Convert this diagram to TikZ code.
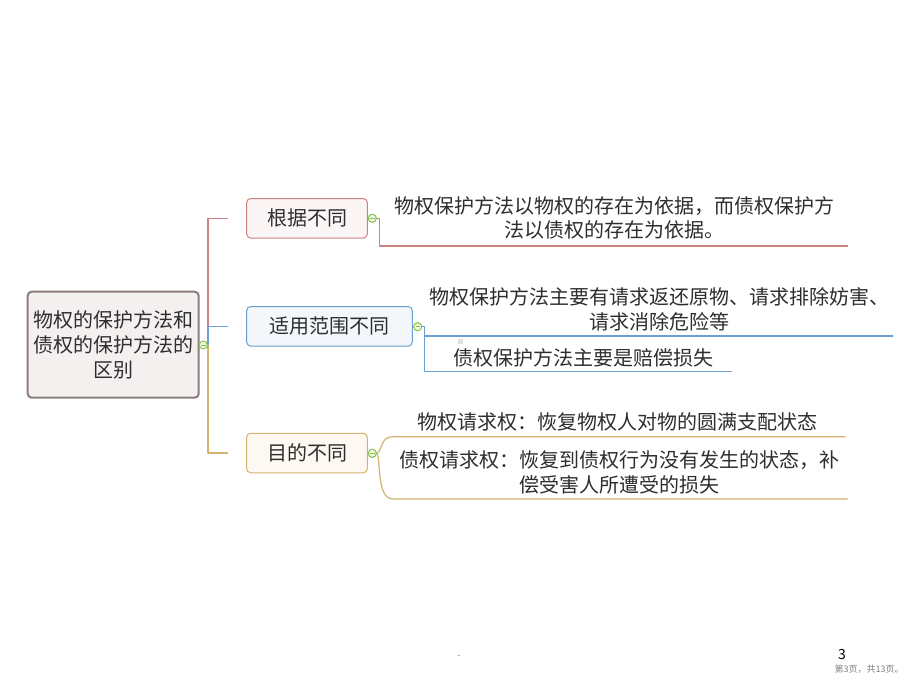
\documentclass[tikz,border=0pt]{standalone}
\usepackage{fontspec}
\setmainfont{Noto Sans CJK SC}
\usetikzlibrary{calc}
\definecolor{textc}{HTML}{2E2E2E}
\definecolor{redl}{HTML}{CD8282}
\definecolor{redf}{HTML}{FBF5F5}
\definecolor{bluel}{HTML}{6A9FCF}
\definecolor{bluef}{HTML}{F3F7FC}
\definecolor{yell}{HTML}{D2B46E}
\definecolor{yelf}{HTML}{FDF8F1}
\definecolor{rootl}{HTML}{8A7F7A}
\definecolor{rootf}{HTML}{F3F0EF}
\definecolor{greenc}{HTML}{86C246}
\definecolor{greenf}{HTML}{F1F8E8}
\begin{document}
\begin{tikzpicture}[x=1pt,y=-1pt,
  txt/.style={font=\fontsize{20}{24.5}\selectfont, text=textc, inner sep=0pt, align=center},
  topicbox/.style={draw, rounded corners=4pt, line width=1pt, inner sep=0pt,
     font=\fontsize{20}{24}\selectfont, text=textc, minimum height=39.5pt},
  rootbox/.style={draw=rootl, fill=rootf, rounded corners=4pt, line width=2pt, inner sep=0pt,
     font=\fontsize{20}{25}\selectfont, text=textc, align=center},
  collapse/.style={circle, draw=greenc, fill=greenf, line width=0.9pt, minimum size=8pt, inner sep=0pt,
     path picture={\draw[greenc, line width=0.9pt] ($(path picture bounding box.center)+(-2.2,0)$) -- ++(4.4,0);}},
  conn/.style={line width=1.2pt, line join=round}
]
\useasboundingbox[fill=white] (0,0) rectangle (920,690);

% root
\node[rootbox, minimum width=171pt, minimum height=106pt] (root) at (113.2,344.7)
  {物权的保护方法和\\债权的保护方法的\\区别};

% topics
\node[topicbox, draw=redl, fill=redf, minimum width=120.6pt] (b1) at (307,218.3) {根据不同};
\node[topicbox, draw=bluel, fill=bluef, minimum width=165.6pt] (b2) at (329.5,326.3) {适用范围不同};
\node[topicbox, draw=yell, fill=yelf, minimum width=120.6pt] (b3) at (307,453) {目的不同};

% root connectors
\coordinate (rj) at (208,345);
\draw[conn, redl] (rj) |- ($(b1.west)+(-18.4,0)$);
\draw[conn, yell] (rj) |- ($(b3.west)+(-18.4,0)$);
\draw[conn, bluel] (rj) |- ($(b2.west)+(-18.4,0)$);
\node[collapse] (rc) at (203.3,345) {};

% details
\node[txt] (t1) at (614,218) {物权保护方法以物权的存在为依据，而债权保护方\\法以债权的存在为依据。};
\node[txt] (t2a) at (659,309.5) {物权保护方法主要有请求返还原物、请求排除妨害、\\请求消除危险等};
\node[txt] (t2b) at (583,358) {债权保护方法主要是赔偿损失};
\node[txt] (t3a) at (617,421.5) {物权请求权：恢复物权人对物的圆满支配状态};
\node[txt] (t3b) at (619,472.5) {债权请求权：恢复到债权行为没有发生的状态，补\\偿受害人所遭受的损失};

\coordinate (u1) at (848,246);
\coordinate (u2a) at (893,336);
\coordinate (u2b) at (731.7,371.7);
\coordinate (u3a) at (845,436.7);
\coordinate (u3b) at (847.7,499);

% branch 1
\node[collapse] (c1) at (372.3,218.3) {};
\draw[conn, redl] (c1.east) -- ++(2.7,0) |- (u1);
\node[collapse] at (c1) {};

% branch 2
\node[collapse] (c2) at (417.7,326.7) {};
\draw[conn, bluel] (c2.east) -- ++(2.6,0) |- (u2b);
\draw[conn, bluel] ($(c2.east)+(2.6,0)$) |- (u2a);
\node[collapse] at (c2) {};
\fill[gray!25] (457.5,339.2) rectangle (462.5,344.2);

% branch 3
\node[collapse] (c3) at (372.3,453.3) {};
\draw[conn, yell] (c3.east) .. controls (383,450) and (380,436.7) .. (393,436.7) -- (u3a);
\draw[conn, yell] (c3.east) .. controls (381,458) and (376,499) .. (393,499) -- (u3b);
\node[collapse] at (c3) {};

% footer
\node[font=\fontsize{8}{10}\selectfont, text=textc] (dot) at (459,656) {.};
\node[font=\fontsize{14}{16}\selectfont, text=black] (pg) at (842,655) {3};
\node[font=\fontsize{9}{11}\selectfont, text=gray] (pgt) at (869,669) {第3页，共13页。};
\end{tikzpicture}
\end{document}
